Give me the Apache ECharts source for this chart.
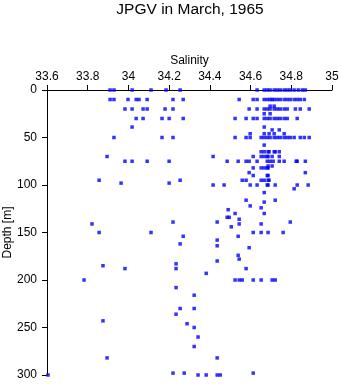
<!DOCTYPE html>
<html><head><meta charset="utf-8">
<script src="https://cdn.jsdelivr.net/npm/echarts@6/dist/echarts.min.js"></script>
<style>html,body{margin:0;padding:0;background:#fff}#c{width:341px;height:384px}</style>
</head><body><div id="c"></div>
<script>
const titleText = 'JPGV in March, 1965';
const xName = 'Salinity';
const yName = 'Depth [m]';
const salinityMin = 33.6, salinityMax = 35, salinityStep = 0.2;
const depthMin = 0, depthMax = 300, depthStep = 50;

const depths = [0, 10, 17, 20, 25, 30, 39, 42, 46, 50, 58, 65, 70, 75, 80, 82, 87, 90, 95, 98, 100, 104, 108, 116, 118, 122, 124, 126, 130, 134, 136, 139, 141, 144, 150, 154, 158, 162, 164, 166, 174, 178, 180, 183, 185, 188, 193, 200, 208, 216, 230, 236, 243, 246, 250, 260, 270, 282, 298, 300];
const salinityByDepth = [
  [33.910, 33.929, 34.018, 34.111, 34.185, 34.254, 34.632, 34.667, 34.682, 34.696, 34.716, 34.731, 34.746, 34.765, 34.780, 34.795, 34.814, 34.834, 34.854, 34.869],
  [33.910, 33.929, 33.998, 34.038, 34.052, 34.092, 34.219, 34.269, 34.544, 34.613, 34.632, 34.667, 34.682, 34.696, 34.706, 34.716, 34.731, 34.746, 34.765, 34.780, 34.795, 34.814, 34.829, 34.844, 34.864],
  [34.696, 34.716],
  [33.983, 34.018, 34.072, 34.092, 34.180, 34.219, 34.593, 34.632, 34.667, 34.682, 34.696, 34.716, 34.731, 34.746, 34.765, 34.780, 34.820, 34.844, 34.888],
  [34.667, 34.696],
  [34.038, 34.072, 34.165, 34.200, 34.269, 34.524, 34.578, 34.613, 34.632, 34.667, 34.682, 34.696, 34.716, 34.731, 34.746, 34.765, 34.780, 34.829],
  [34.018, 34.667],
  [34.706, 34.741],
  [34.598, 34.667, 34.691, 34.716, 34.765],
  [33.929, 34.165, 34.219, 34.524, 34.578, 34.598, 34.652, 34.667, 34.682, 34.696, 34.716, 34.731, 34.746, 34.765, 34.780, 34.795, 34.814, 34.844, 34.864, 34.888],
  [34.667],
  [34.652, 34.667, 34.686, 34.691, 34.716, 34.721, 34.741],
  [33.895, 34.416, 34.613, 34.652, 34.667, 34.682, 34.686, 34.706, 34.741],
  [33.983, 34.018, 34.092, 34.200, 34.485, 34.539, 34.578, 34.593, 34.632, 34.682, 34.696, 34.711, 34.741, 34.765, 34.824, 34.829, 34.869],
  [34.686, 34.706],
  [34.613, 34.652, 34.667, 34.682, 34.686],
  [34.593, 34.869],
  [34.613, 34.682, 34.686],
  [33.856, 34.254, 34.559, 34.578, 34.652, 34.667, 34.686, 34.691],
  [33.964, 34.200],
  [34.416, 34.470, 34.598, 34.632, 34.682, 34.686, 34.721, 34.829, 34.883],
  [34.814],
  [34.667],
  [34.578, 34.721],
  [34.667],
  [34.598],
  [34.652],
  [34.490],
  [34.524, 34.667],
  [34.485, 34.495],
  [34.544],
  [34.219, 34.436, 34.795],
  [33.821, 34.544, 34.652],
  [34.505],
  [33.856, 34.111, 34.613, 34.652, 34.686, 34.760],
  [34.269, 34.539],
  [34.436],
  [34.254],
  [34.436],
  [34.593],
  [34.539],
  [34.544],
  [34.436],
  [34.234],
  [33.875],
  [33.983, 34.234, 34.578],
  [34.382],
  [33.782, 34.524, 34.544, 34.559, 34.613, 34.652, 34.706, 34.721],
  [34.234],
  [34.323],
  [34.254, 34.323],
  [34.234],
  [33.875],
  [34.288],
  [34.323],
  [34.342],
  [34.323],
  [33.895, 34.436],
  [34.219, 34.274, 34.613],
  [33.605, 34.342, 34.382, 34.436, 34.451]
];

const points = [];
depths.forEach((d, i) => salinityByDepth[i].forEach(s => points.push([s, d])));

const FONT = '"Liberation Sans", Arial, sans-serif';
const chart = echarts.init(document.getElementById('c'), null, {renderer: 'canvas'});
chart.setOption({
  animation: false,
  backgroundColor: '#ffffff',
  graphic: [{
    type: 'text', x: 190, y: 2,
    style: {text: titleText, font: '15.5px ' + FONT, fill: '#000', textAlign: 'center', textVerticalAlign: 'top'}
  }],
  grid: {left: 47, right: 9, top: 90, bottom: 9, containLabel: false, outerBoundsMode: 'none'},
  xAxis: {
    type: 'value', position: 'top', min: salinityMin, max: salinityMax, interval: salinityStep,
    name: xName, nameLocation: 'middle', nameGap: 23, nameMoveOverlap: false,
    nameTextStyle: {fontSize: 12, color: '#000', fontFamily: FONT},
    axisLine: {show: true, onZero: false, lineStyle: {color: '#000', width: 1}},
    axisTick: {show: true, length: 5, lineStyle: {color: '#000', width: 1}},
    axisLabel: {fontSize: 12, color: '#000', fontFamily: FONT, margin: 7},
    splitLine: {show: false}
  },
  yAxis: {
    type: 'value', inverse: true, min: depthMin, max: depthMax, interval: depthStep,
    name: yName, nameLocation: 'middle', nameGap: 33, nameRotate: 90, nameMoveOverlap: false,
    nameTextStyle: {fontSize: 12, color: '#000', fontFamily: FONT},
    axisLine: {show: true, onZero: false, lineStyle: {color: '#000', width: 1}},
    axisTick: {show: true, length: 5, lineStyle: {color: '#000', width: 1}},
    axisLabel: {fontSize: 12, color: '#000', fontFamily: FONT, margin: 10},
    splitLine: {show: false}
  },
  series: [{
    type: 'scatter', data: points, symbol: 'rect', symbolSize: 3.5,
    itemStyle: {color: '#0000ff'}, clip: false
  }]
});
</script></body></html>
